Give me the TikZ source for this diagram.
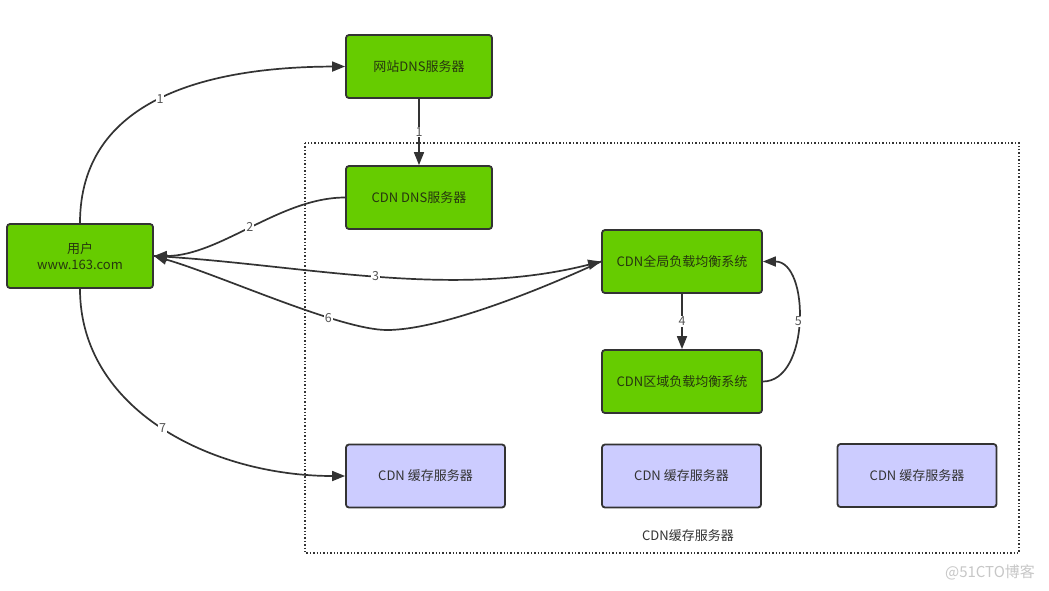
\documentclass[tikz,border=0pt]{standalone}
\usepackage{fontspec}
\setmainfont{Noto Sans CJK SC}
\usetikzlibrary{arrows.meta}
\definecolor{boxgreen}{HTML}{66CC00}
\definecolor{boxlav}{HTML}{CCCCFF}
\definecolor{edgec}{HTML}{333333}
\definecolor{txtg}{HTML}{26360F}
\definecolor{lblc}{HTML}{555555}
\tikzset{
  greenbox/.style={draw=edgec, line width=1.8pt, rounded corners=3pt, fill=boxgreen,
    text=txtg, font=\fontsize{13}{15.5}\selectfont, align=center, inner sep=0pt},
  cachebox/.style={draw=edgec, line width=1.8pt, rounded corners=3pt, fill=boxlav,
    text=edgec, font=\fontsize{13}{15.5}\selectfont, align=center, inner sep=0pt,
    minimum width=159pt, minimum height=63pt},
  conn/.style={draw=edgec, line width=1.7pt, -{Triangle[length=13pt,width=10pt]}},
  lbl/.style={fill=white, inner sep=1pt, text=lblc, font=\fontsize{12.5}{14}\selectfont},
}
\begin{document}
\begin{tikzpicture}[x=1pt,y=-1pt]
\useasboundingbox (0,0) rectangle (1049,590);
\fill[white] (0,0) rectangle (1049,590);
% dotted container
\draw[edgec, line width=1.4pt, dotted] (305,143) rectangle (1019,553);
\node[text=edgec, font=\fontsize{13}{15.5}\selectfont] (grp) at (688,536) {CDN缓存服务器};
% nodes
\node[greenbox, minimum width=146pt, minimum height=63pt] (web) at (419,66.5) {网站DNS服务器};
\node[greenbox, minimum width=146pt, minimum height=63pt] (cdndns) at (419,197.5) {CDN DNS服务器};
\node[greenbox, minimum width=146pt, minimum height=64pt] (user) at (80,256) {用户\\www.163.com};
\node[greenbox, minimum width=160pt, minimum height=63pt] (glb) at (682,261.5) {CDN全局负载均衡系统};
\node[greenbox, minimum width=160pt, minimum height=63pt] (slb) at (682,381.5) {CDN区域负载均衡系统};
\node[cachebox] (c1) at (425.5,476) {CDN 缓存服务器};
\node[cachebox] (c2) at (681.5,476) {CDN 缓存服务器};
\node[cachebox] (c3) at (917,475.5) {CDN 缓存服务器};
% connectors
\draw[conn] (user.north) .. controls (80,100) and (205,67) .. node[lbl] {1} (web.west);
\draw[conn] (web.south) -- node[lbl] {1} (cdndns.north);
\draw[conn] (cdndns.west) .. controls (280,197.5) and (220,256) .. node[lbl] {2} (user.east);
\draw[conn] (user.east) .. controls (300,264) and (450,300) .. node[lbl] {3} (glb.west);
\coordinate (low6) at (387,330);
\draw[conn] (glb.west) .. controls (540,290) and (440,330) .. (low6)
   .. controls (340,330) and (220,275) .. node[lbl, pos=0.3] {6} (user.east);
\draw[conn] (glb.south) -- node[lbl] {4} (slb.north);
\draw[conn] (slb.east) .. controls (810,381.5) and (810,261.5) .. node[lbl] {5} (glb.east);
\draw[conn] (user.south) .. controls (80,410) and (212,476) .. node[lbl] {7} (c1.west);
% watermark
\node[text=black!22, font=\fontsize{15}{17}\selectfont] (wm) at (990,572) {@51CTO博客};
\end{tikzpicture}
\end{document}
